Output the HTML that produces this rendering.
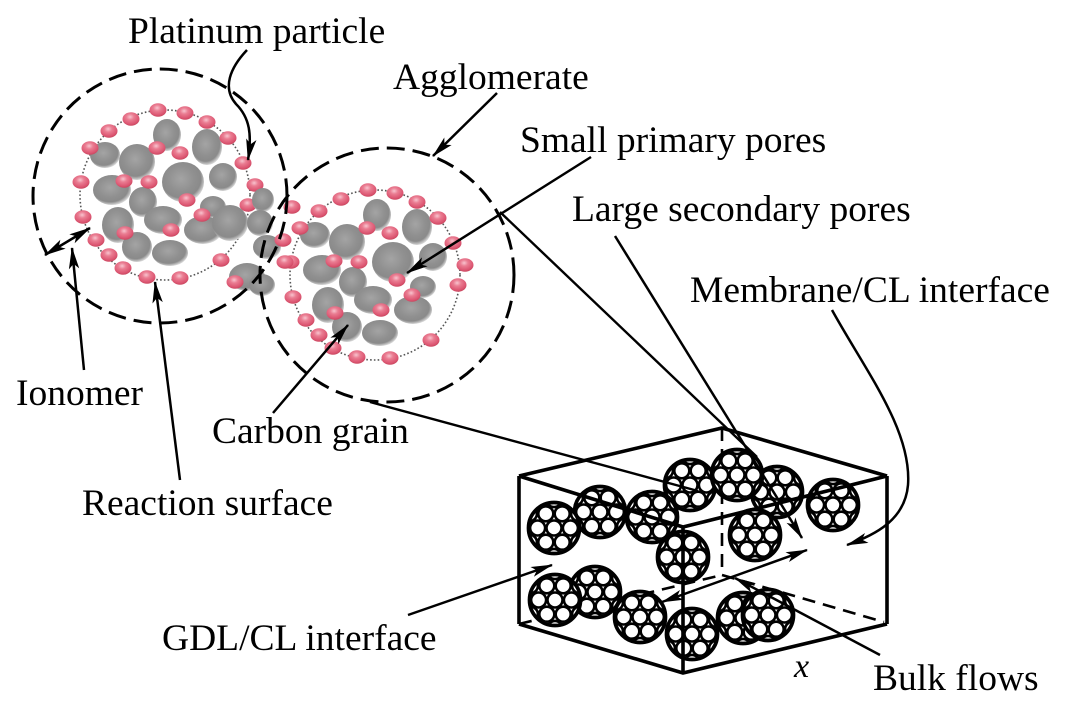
<!DOCTYPE html>
<html>
<head>
<meta charset="utf-8">
<style>
html,body{margin:0;padding:0;background:#fff;}
svg{display:block;}
text{font-family:"Liberation Serif","Times New Roman",serif;font-size:37.5px;fill:#000;}
</style>
</head>
<body>
<svg width="1080" height="707" viewBox="0 0 1080 707" xmlns="http://www.w3.org/2000/svg">
<defs>
  <marker id="ah" markerUnits="userSpaceOnUse" markerWidth="24" markerHeight="12" refX="21" refY="6" orient="auto-start-reverse">
    <path d="M0,0.8 L22,6 L0,11.2 L5,6 Z" fill="#000"/>
  </marker>
  <radialGradient id="pk" cx="45%" cy="35%" r="65%">
    <stop offset="0%" stop-color="#f8c4cf"/>
    <stop offset="35%" stop-color="#ea7d92"/>
    <stop offset="80%" stop-color="#dc5672"/>
    <stop offset="100%" stop-color="#c9475f"/>
  </radialGradient>
  <radialGradient id="gr" cx="45%" cy="42%" r="58%">
    <stop offset="0%" stop-color="#a4a4a4"/>
    <stop offset="55%" stop-color="#909090"/>
    <stop offset="82%" stop-color="#8a8a8a"/>
    <stop offset="100%" stop-color="#d6d6d6"/>
  </radialGradient>
  <clipPath id="cc"><circle cx="0" cy="0" r="24"/></clipPath>
  <g id="ag">
    <circle cx="0" cy="0" r="25.5" fill="#fff" stroke="#000" stroke-width="3.7"/>
    <g clip-path="url(#cc)" fill="none" stroke="#000" stroke-width="2.6">
      <circle cx="0" cy="0" r="7.5"/>
      <circle cx="16.4" cy="0" r="7.5"/>
      <circle cx="-16.4" cy="0" r="7.5"/>
      <circle cx="8.2" cy="14.2" r="7.5"/>
      <circle cx="-8.2" cy="14.2" r="7.5"/>
      <circle cx="8.2" cy="-14.2" r="7.5"/>
      <circle cx="-8.2" cy="-14.2" r="7.5"/>
      <circle cx="24.6" cy="14.2" r="7.5"/>
      <circle cx="-24.6" cy="14.2" r="7.5"/>
      <circle cx="24.6" cy="-14.2" r="7.5"/>
      <circle cx="-24.6" cy="-14.2" r="7.5"/>
      <circle cx="0" cy="28.4" r="7.5"/>
      <circle cx="0" cy="-28.4" r="7.5"/>
    </g>
  </g>
  <g id="agl">
    <circle cx="165" cy="195" r="85" fill="none" stroke="#555" stroke-width="1.6" stroke-dasharray="1.6 2.2"/>
    <g fill="url(#gr)">
      <ellipse cx="167" cy="135" rx="14" ry="16"/>
      <ellipse cx="207" cy="147" rx="15" ry="18"/>
      <ellipse cx="105" cy="155" rx="15" ry="13"/>
      <ellipse cx="137" cy="162" rx="18" ry="18"/>
      <ellipse cx="183" cy="182" rx="21" ry="20"/>
      <ellipse cx="223" cy="177" rx="14" ry="14"/>
      <ellipse cx="112" cy="190" rx="19" ry="15"/>
      <ellipse cx="143" cy="202" rx="14" ry="15"/>
      <ellipse cx="213" cy="207" rx="13" ry="11"/>
      <ellipse cx="118" cy="225" rx="16" ry="18"/>
      <ellipse cx="163" cy="220" rx="19" ry="14"/>
      <ellipse cx="203" cy="230" rx="19" ry="14"/>
      <ellipse cx="137" cy="247" rx="15" ry="15"/>
      <ellipse cx="170" cy="253" rx="18" ry="13"/>
    </g>
    <g fill="url(#pk)">
      <ellipse cx="157" cy="148" rx="8.5" ry="6.8"/>
      <ellipse cx="180" cy="153" rx="8.5" ry="6.8"/>
      <ellipse cx="124" cy="181" rx="8.5" ry="6.8"/>
      <ellipse cx="149" cy="182" rx="8.5" ry="6.8"/>
      <ellipse cx="187" cy="200" rx="8.5" ry="6.8"/>
      <ellipse cx="202" cy="215" rx="8.5" ry="6.8"/>
      <ellipse cx="125" cy="233" rx="8.5" ry="6.8"/>
      <ellipse cx="171" cy="230" rx="8.5" ry="6.8"/>
      <ellipse cx="158" cy="110" rx="8.5" ry="6.8"/>
      <ellipse cx="185" cy="113" rx="8.5" ry="6.8"/>
      <ellipse cx="207" cy="122" rx="8.5" ry="6.8"/>
      <ellipse cx="228" cy="138" rx="8.5" ry="6.8"/>
      <ellipse cx="243" cy="163" rx="8.5" ry="6.8"/>
      <ellipse cx="131" cy="119" rx="8.5" ry="6.8"/>
      <ellipse cx="109" cy="131" rx="8.5" ry="6.8"/>
      <ellipse cx="90" cy="148" rx="8.5" ry="6.8"/>
      <ellipse cx="81" cy="182" rx="8.5" ry="6.8"/>
      <ellipse cx="83" cy="217" rx="8.5" ry="6.8"/>
      <ellipse cx="96" cy="240" rx="8.5" ry="6.8"/>
      <ellipse cx="109" cy="255" rx="8.5" ry="6.8"/>
      <ellipse cx="123" cy="268" rx="8.5" ry="6.8"/>
      <ellipse cx="147" cy="277" rx="8.5" ry="6.8"/>
      <ellipse cx="180" cy="278" rx="8.5" ry="6.8"/>
      <ellipse cx="221" cy="260" rx="8.5" ry="6.8"/>
      <ellipse cx="248" cy="205" rx="8.5" ry="6.8"/>
      <ellipse cx="255" cy="185" rx="8.5" ry="6.8"/>
    </g>
  </g>
</defs>

<!-- Agglomerate particle clusters -->
<use href="#agl"/>
<g fill="url(#gr)">
  <ellipse cx="230" cy="223" rx="18" ry="18"/>
  <ellipse cx="263" cy="200" rx="11" ry="12"/>
  <ellipse cx="260" cy="223" rx="13" ry="13"/>
  <ellipse cx="267" cy="247" rx="14" ry="12"/>
  <ellipse cx="247" cy="277" rx="18" ry="14"/>
  <ellipse cx="262" cy="285" rx="13" ry="11"/>
</g>
<use href="#agl" transform="translate(210,80)"/>
<g fill="url(#pk)">
  <ellipse cx="235" cy="282" rx="8.5" ry="6.8"/>
  <ellipse cx="283" cy="240" rx="8.5" ry="6.8"/>
  <ellipse cx="285" cy="262" rx="8.5" ry="6.8"/>
  <ellipse cx="292" cy="207" rx="8.5" ry="6.8"/>
</g>

<!-- Dashed agglomerate outlines -->
<g fill="none" stroke="#000" stroke-width="3" stroke-dasharray="18 8">
  <circle cx="160" cy="196" r="127"/>
  <circle cx="387" cy="275" r="127"/>
</g>

<!-- Box hidden edges -->
<g fill="none" stroke="#000" stroke-width="2.6" stroke-dasharray="13 8">
  <line x1="722" y1="428" x2="722" y2="575"/>
  <line x1="722" y1="575" x2="884" y2="622"/>
  <line x1="519" y1="624" x2="722" y2="575"/>
</g>

<!-- Agglomerates in box -->
<use href="#ag" x="777" y="492"/>
<use href="#ag" x="690" y="485"/>
<use href="#ag" x="737" y="475"/>
<use href="#ag" x="652" y="517"/>
<use href="#ag" x="600" y="512"/>
<use href="#ag" x="554" y="528"/>
<use href="#ag" x="833" y="505"/>
<use href="#ag" x="755" y="535"/>
<use href="#ag" x="683" y="557"/>
<use href="#ag" x="595" y="592"/>
<use href="#ag" x="555" y="600"/>
<use href="#ag" x="640" y="617"/>
<use href="#ag" x="692" y="634"/>
<use href="#ag" x="743" y="618"/>
<use href="#ag" x="768" y="615"/>

<!-- Box visible edges -->
<g fill="none" stroke="#000" stroke-width="3.6" stroke-linejoin="miter">
  <polyline points="519,476 722,428 887,476"/>
  <polyline points="519,476 683,527 887,476"/>
  <line x1="519" y1="476" x2="519" y2="624"/>
  <line x1="683" y1="527" x2="683" y2="673"/>
  <line x1="887" y1="476" x2="887" y2="624"/>
  <polyline points="519,624 683,673 887,624"/>
</g>

<!-- Zoom connection lines -->
<g fill="none" stroke="#000" stroke-width="2.4">
  <line x1="500" y1="212" x2="757" y2="457"/>
  <line x1="370" y1="402" x2="698" y2="491"/>
</g>

<!-- Leader arrows -->
<g fill="none" stroke="#000" stroke-width="2.5">
  <path d="M247,50 C230,68 222,88 236,104 C250,118 252,135 248,160" marker-end="url(#ah)"/>
  <line x1="497" y1="93" x2="433" y2="156" marker-end="url(#ah)"/>
  <line x1="591" y1="157" x2="407" y2="273" marker-end="url(#ah)"/>
  <line x1="615" y1="236" x2="802" y2="538" marker-end="url(#ah)"/>
  <path d="M832,310 C865,370 912,430 908,485 C905,520 875,535 847,545" marker-end="url(#ah)"/>
  <line x1="45" y1="255" x2="90" y2="228" marker-start="url(#ah)" marker-end="url(#ah)"/>
  <line x1="84" y1="370" x2="72" y2="248" marker-end="url(#ah)"/>
  <line x1="180" y1="480" x2="155" y2="282" marker-end="url(#ah)"/>
  <line x1="273" y1="413" x2="348" y2="325" marker-end="url(#ah)"/>
  <line x1="408" y1="615" x2="552" y2="565" marker-end="url(#ah)"/>
  <line x1="662" y1="602" x2="807" y2="550" marker-start="url(#ah)" marker-end="url(#ah)"/>
  <line x1="880" y1="655" x2="735" y2="578" marker-end="url(#ah)"/>
</g>

<!-- Labels -->
<g font-family="Liberation Serif, Times New Roman, serif" font-size="37.5">
<text x="128" y="43" font-family="Liberation Serif, serif">Platinum particle</text>
<text x="393" y="89" font-family="Liberation Serif, serif">Agglomerate</text>
<text x="520" y="152" font-family="Liberation Serif, serif">Small primary pores</text>
<text x="572" y="221" font-family="Liberation Serif, serif">Large secondary pores</text>
<text x="690" y="302" font-family="Liberation Serif, serif">Membrane/CL interface</text>
<text x="16" y="405" font-family="Liberation Serif, serif">Ionomer</text>
<text x="212" y="443" font-family="Liberation Serif, serif">Carbon grain</text>
<text x="82" y="515" font-family="Liberation Serif, serif">Reaction surface</text>
<text x="162" y="650" font-family="Liberation Serif, serif">GDL/CL interface</text>
<text x="794" y="677" font-family="Liberation Serif, serif" font-style="italic" style="font-size:34px">x</text>
<text x="873" y="690" font-family="Liberation Serif, serif">Bulk flows</text>
</g>
</svg>
</body>
</html>
